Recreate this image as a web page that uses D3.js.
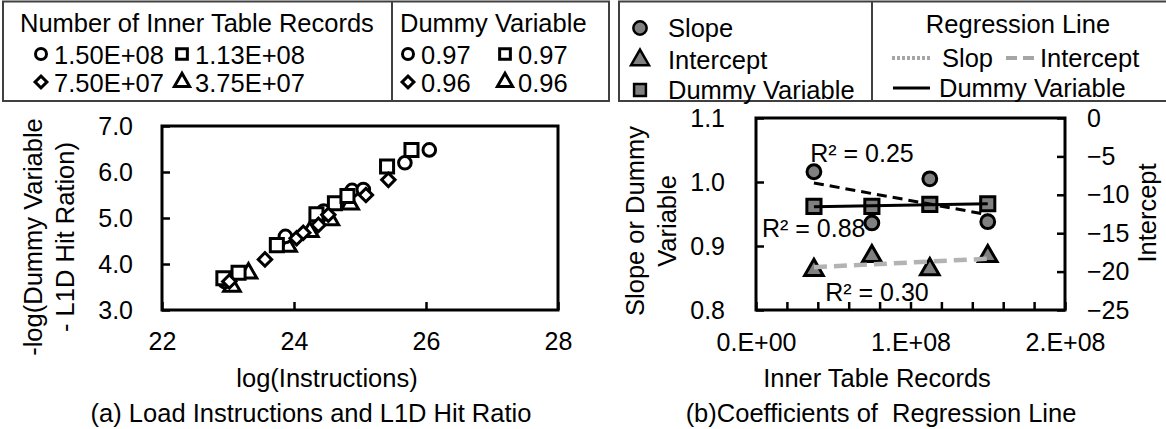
<!DOCTYPE html>
<html><head><meta charset="utf-8">
<script src="https://cdn.jsdelivr.net/npm/d3@7/dist/d3.min.js"></script>
<style>
body{margin:0;background:#fff;}
svg{display:block;font-family:"Liberation Sans",Arial,sans-serif;}
text{white-space:pre;}
</style></head>
<body>
<svg id="c" width="1166" height="429"></svg>
<script>
// ---------- DATA ----------
// (a) scatter: [log(Instructions), -log(Dummy Variable - L1D Hit Ratio)] per inner-table size
const seriesNames = ["1.50E+08", "1.13E+08", "7.50E+07", "3.75E+07"];
const dummyLegendVals = ["0.97", "0.97", "0.96", "0.96"];
const pts150 = [[22.95,3.62],[23.87,4.60],[24.45,5.15],[24.88,5.60],[25.05,5.62],[25.68,6.20],[26.05,6.48]];
const pts113 = [[22.93,3.69],[23.16,3.81],[23.74,4.41],[24.34,5.08],[24.62,5.32],[24.81,5.48],[25.41,6.12],[25.78,6.48]];
const pts75  = [[23.02,3.62],[23.56,4.10],[24.04,4.56],[24.14,4.68],[24.37,4.85],[24.52,5.07],[25.09,5.50],[25.43,5.83]];
const pts37  = [[23.06,3.51],[23.31,3.80],[23.91,4.38],[24.24,4.70],[24.55,4.96],[24.85,5.30]];
const xTicksA = [22, 24, 26, 28];
const yTicksA = [3, 4, 5, 6, 7];

// (b) coefficients
const innerRecords = [3.75e7, 7.5e7, 1.125e8, 1.5e8];
const slopeVals = [1.016, 0.936, 1.005, 0.938];
const interceptVals = [-19.8, -18.0, -19.7, -18.0];
const dummyVals = [0.962, 0.962, 0.965, 0.966];
const xTicksB = [0, 2e7, 4e7, 6e7, 8e7, 1e8, 1.2e8, 1.4e8, 1.6e8, 1.8e8, 2e8];
const xTickLabelsB = {0: "0.E+00", 100000000: "1.E+08", 200000000: "2.E+08"};
const yTicksBL = [0.8, 0.9, 1.0, 1.1];
const yTicksBR = [-25, -20, -15, -10, -5, 0];
const r2Labels = ["R² = 0.25", "R² = 0.88", "R² = 0.30"];

// ---------- DRAW ----------
const svg = d3.select("#c");
const FS = 25.5, TFS = 25, LFS = 25.5;
const GRAY = "#808080";

function frame(x0, y0, x1, y1) {
  svg.append("rect").attr("x", x0).attr("y", y0).attr("width", x1 - x0).attr("height", y1 - y0)
    .attr("fill", "none").attr("stroke", "#000").attr("stroke-width", 3);
}
function vtext(x, y, lines, size) {
  const t = svg.append("text").attr("transform", `translate(${x},${y}) rotate(-90)`)
    .attr("text-anchor", "middle").attr("font-size", size).attr("fill", "#000");
  const n = lines.length;
  lines.forEach((l, i) => t.append("tspan").attr("x", 0).attr("y", 0)
    .attr("dy", ((i - (n - 1) / 2) * 1.25 + 0.35) + "em").text(l));
}
function htext(x, y, s, size, anchor) {
  svg.append("text").attr("x", x).attr("y", y).attr("text-anchor", anchor || "middle")
    .attr("dominant-baseline", "central").attr("font-size", size).attr("fill", "#000").text(s);
}
// symbol spec: [type, area, rotation]
const symSpecA = [[d3.symbolCircle, 125, 0], [d3.symbolSquare, 170, 0], [d3.symbolSquare, 90, 45], [d3.symbolTriangle, 120, 0]];
const symSpecL = [[d3.symbolCircle, 95, 0], [d3.symbolSquare, 115, 0], [d3.symbolSquare, 70, 45], [d3.symbolTriangle, 100, 0]];

// ===== Chart (a) =====
const xA = d3.scaleLinear().domain([22, 28]).range([162, 558]);
const yA = d3.scaleLinear().domain([3, 7]).range([310, 126]);

const axA = svg.append("g").attr("transform", "translate(0,310)")
  .call(d3.axisBottom(xA).tickValues(xTicksA).tickSizeInner(-8).tickSizeOuter(0).tickFormat(d3.format("d")));
const ayA = svg.append("g").attr("transform", "translate(162,0)")
  .call(d3.axisLeft(yA).tickValues(yTicksA).tickSizeInner(-8).tickSizeOuter(0).tickPadding(29).tickFormat(d3.format(".1f")));
[axA, ayA].forEach(g => {
  g.select(".domain").remove();
  g.selectAll("line").attr("stroke", "#000").attr("stroke-width", 2.5);
  g.selectAll("text").attr("font-size", TFS).attr("font-family", null).attr("fill", "#000");
});
axA.selectAll("text").attr("y", 31).attr("dy", null).attr("dominant-baseline", "central");

const aSeries = [pts37, pts150, pts113, pts75];
const aIdx = [3, 0, 1, 2];
aSeries.forEach((pts, k) => {
  const [type, size, rot] = symSpecA[aIdx[k]];
  svg.append("g").selectAll("path").data(pts).join("path")
    .attr("transform", d => `translate(${xA(d[0])},${yA(d[1])}) rotate(${rot})`)
    .attr("d", d3.symbol().type(type).size(size))
    .attr("fill", "#fff").attr("stroke", "#000").attr("stroke-width", 3);
});
frame(162, 126, 558, 310);

vtext(49, 237, ["-log(Dummy Variable", "- L1D Hit Ration)"], FS);
htext(327, 378, "log(Instructions)", FS);
htext(311, 413, "(a) Load Instructions and L1D Hit Ratio", FS);

// ===== Chart (b) =====
const xB = d3.scaleLinear().domain([0, 2e8]).range([756, 1065]);
const yBL = d3.scaleLinear().domain([0.8, 1.1]).range([310, 118]);
const yBR = d3.scaleLinear().domain([-25, 0]).range([310, 118]);

const axB = svg.append("g").attr("transform", "translate(0,310)")
  .call(d3.axisBottom(xB).tickValues(xTicksB).tickSizeInner(-8).tickSizeOuter(0)
    .tickFormat(d => xTickLabelsB[d] || ""));
const ayBL = svg.append("g").attr("transform", "translate(756,0)")
  .call(d3.axisLeft(yBL).tickValues(yTicksBL).tickSizeInner(-8).tickSizeOuter(0).tickPadding(31).tickFormat(d3.format(".1f")));
const ayBR = svg.append("g").attr("transform", "translate(1065,0)")
  .call(d3.axisRight(yBR).tickValues(yTicksBR).tickSizeInner(-8).tickSizeOuter(0).tickPadding(22).tickFormat(d3.format("d")));
[axB, ayBL, ayBR].forEach(g => {
  g.select(".domain").remove();
  g.selectAll("line").attr("stroke", "#000").attr("stroke-width", 2.5);
  g.selectAll("text").attr("font-size", TFS).attr("font-family", null).attr("fill", "#000");
});
axB.selectAll("text").attr("y", 32).attr("dy", null).attr("dominant-baseline", "central");

// markers
const mk = (type, size, xs, ys, yScale) => svg.append("g").selectAll("path").data(xs.map((x, i) => [x, ys[i]])).join("path")
  .attr("transform", d => `translate(${xB(d[0])},${yScale(d[1])})`)
  .attr("d", d3.symbol().type(type).size(size))
  .attr("fill", GRAY).attr("stroke", "#000").attr("stroke-width", 3);
mk(d3.symbolCircle, 150, innerRecords, slopeVals, yBL);
mk(d3.symbolTriangle, 150, innerRecords, interceptVals, yBR);
mk(d3.symbolSquare, 200, innerRecords, dummyVals, yBL);

// least-squares regression lines
function fit(xs, ys) {
  const mx = d3.mean(xs), my = d3.mean(ys);
  const b = d3.sum(xs, (x, i) => (x - mx) * (ys[i] - my)) / d3.sum(xs, x => (x - mx) ** 2);
  return x => my + b * (x - mx);
}
const x0 = d3.min(innerRecords), x1 = d3.max(innerRecords);
const fS = fit(innerRecords, slopeVals), fI = fit(innerRecords, interceptVals), fD = fit(innerRecords, dummyVals);
const ln = (f, ys, stroke, w, dash) => svg.append("line")
  .attr("x1", xB(x0)).attr("y1", ys(f(x0))).attr("x2", xB(x1)).attr("y2", ys(f(x1)))
  .attr("stroke", stroke).attr("stroke-width", w).attr("stroke-dasharray", dash);
ln(fS, yBL, "#000", 3, "10,6");
ln(fI, yBR, "#b3b3b3", 4.5, "13,7");
ln(fD, yBL, "#000", 3, null);
frame(756, 118, 1065, 310);

htext(862, 153, r2Labels[0], TFS);
htext(762, 228, r2Labels[1], TFS, "start");
htext(877, 292, r2Labels[2], TFS);

vtext(651, 221, ["Slope or Dummy", "Variable"], FS);
vtext(1147, 213, ["Intercept"], FS);
htext(877, 378, "Inner Table Records", FS);
htext(881, 413, "(b)Coefficients of  Regression Line", FS);

// ===== Legends =====
const LB = "#404040";
svg.append("rect").attr("x", 3).attr("y", 1.5).attr("width", 606).attr("height", 99.5)
  .attr("fill", "none").attr("stroke", LB).attr("stroke-width", 2);
svg.append("line").attr("x1", 392).attr("x2", 392).attr("y1", 1).attr("y2", 101).attr("stroke", LB).attr("stroke-width", 2);
htext(20, 23, "Number of Inner Table Records", FS, "start");
htext(400, 23, "Dummy Variable", FS, "start");
const legPos = [[41, 54], [182, 54], [41, 82], [182, 82]];
const legPos2 = [[408, 54], [505, 54], [408, 82], [505, 82]];
seriesNames.forEach((s, i) => {
  const [type, size, rot] = symSpecL[i];
  [[legPos[i], s], [legPos2[i], dummyLegendVals[i]]].forEach(([p, lbl]) => {
    svg.append("path").attr("transform", `translate(${p[0]},${p[1]}) rotate(${rot})`)
      .attr("d", d3.symbol().type(type).size(size))
      .attr("fill", "#fff").attr("stroke", "#000").attr("stroke-width", 3);
    htext(p[0] + 13, p[1] + 1, lbl, LFS, "start");
  });
});

svg.append("rect").attr("x", 619).attr("y", 1.5).attr("width", 560).attr("height", 99.5)
  .attr("fill", "none").attr("stroke", LB).attr("stroke-width", 2);
svg.append("line").attr("x1", 872).attr("x2", 872).attr("y1", 1).attr("y2", 101).attr("stroke", LB).attr("stroke-width", 2);
const rItems = [[d3.symbolCircle, "Slope", 28], [d3.symbolTriangle, "Intercept", 60], [d3.symbolSquare, "Dummy Variable", 90]];
rItems.forEach(([t, s, y]) => {
  svg.append("path").attr("transform", `translate(640,${y})`).attr("d", d3.symbol().type(t).size(140))
    .attr("fill", GRAY).attr("stroke", "#000").attr("stroke-width", 2.5);
  htext(668, y, s, FS, "start");
});
htext(1018, 24, "Regression Line", FS);
svg.append("line").attr("x1", 892).attr("x2", 931).attr("y1", 58).attr("y2", 58).attr("stroke", "#a6a6a6").attr("stroke-width", 4).attr("stroke-dasharray", "3,2");
htext(942, 58, "Slop", FS, "start");
svg.append("line").attr("x1", 1006).attr("x2", 1034).attr("y1", 58).attr("y2", 58).attr("stroke", "#a6a6a6").attr("stroke-width", 4).attr("stroke-dasharray", "11,6");
htext(1040, 58, "Intercept", FS, "start");
svg.append("line").attr("x1", 893).attr("x2", 930).attr("y1", 88).attr("y2", 88).attr("stroke", "#000").attr("stroke-width", 3);
htext(939, 88, "Dummy Variable", FS, "start");
</script>
</body></html>
